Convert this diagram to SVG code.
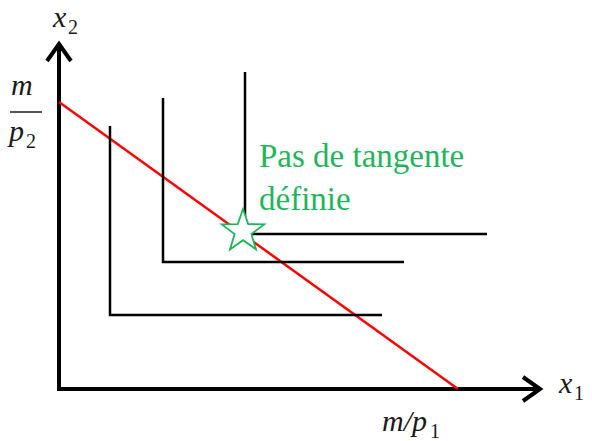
<svg xmlns="http://www.w3.org/2000/svg" width="592" height="441" viewBox="0 0 592 441">
<style>
.axis{stroke:#000;stroke-width:4;fill:none;stroke-linecap:butt}
.head{stroke:#000;stroke-width:4;fill:none;stroke-linejoin:miter}
.ic{stroke:#000;stroke-width:2.5;fill:none;stroke-linejoin:miter}
.budget{stroke:#ff0000;stroke-width:2.5;fill:none}
</style>
<rect width="592" height="441" fill="#fff"/>
<g id="axes">
<polyline class="axis" points="59,44 59,389 540,389"/>
<polyline class="head" points="47,61 59,44 71,61"/>
<polyline class="head" points="523,377 540,389 523,401"/>
</g>
<g id="budget-line">
<line class="budget" x1="59" y1="102" x2="458" y2="389"/>
</g>
<g id="ic1"><polyline class="ic" points="110,126 110,315 382,315"/></g>
<g id="ic2"><polyline class="ic" points="163,98 163,262 404,262"/></g>
<g id="ic3"><polyline class="ic" points="245,72 245,234 487,234"/></g>
<g id="star">
<polygon points="243,209 248.2,224.1 264.2,224.4 251.4,234.1 256,249.4 243,240.2 230,249.4 234.6,234.1 221.8,224.4 237.8,224.1" fill="#fff" stroke="#1fb55a" stroke-width="1.8" stroke-linejoin="miter"/>
</g>
<g id="labels">
<line x1="10" y1="112" x2="42" y2="112" stroke="#1a1a1a" stroke-width="1.5"/>
<text x="53" y="27" font-size="30" font-family="Times New Roman, serif" font-style="italic" fill="#1a1a1a">x</text>
<text x="68" y="34" font-size="20" font-family="Times New Roman, serif" fill="#1a1a1a">2</text>
<text x="11" y="95" font-size="30" font-family="Times New Roman, serif" font-style="italic" fill="#1a1a1a">m</text>
<text x="9" y="141" font-size="30" font-family="Times New Roman, serif" font-style="italic" fill="#1a1a1a">p</text>
<text x="26" y="148" font-size="20" font-family="Times New Roman, serif" fill="#1a1a1a">2</text>
<text x="559" y="393" font-size="30" font-family="Times New Roman, serif" font-style="italic" fill="#1a1a1a">x</text>
<text x="574" y="400" font-size="20" font-family="Times New Roman, serif" fill="#1a1a1a">1</text>
<text x="382" y="431" font-size="30" font-family="Times New Roman, serif" font-style="italic" fill="#1a1a1a">m/p</text>
<text x="430" y="438" font-size="20" font-family="Times New Roman, serif" fill="#1a1a1a">1</text>
<text x="259" y="167" font-size="33" font-family="Times New Roman, serif" fill="#1fb55a">Pas de tangente</text>
<text x="259" y="210" font-size="33" font-family="Times New Roman, serif" fill="#1fb55a">définie</text>
</g>
</svg>
